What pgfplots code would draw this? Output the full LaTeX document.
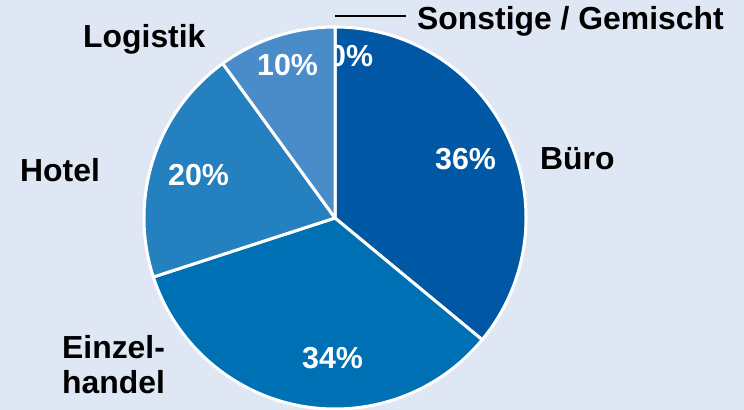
\documentclass[border=0pt]{standalone}
\usepackage{pgfplots}
\usepackage{pgfplotstable}
\pgfplotsset{compat=1.18}
\usepackage{fontspec}
\setmainfont{Liberation Sans}
\definecolor{bg}{RGB}{223,231,245}
\definecolor{cBuero}{RGB}{0,87,163}
\definecolor{cHandel}{RGB}{0,112,180}
\definecolor{cHotel}{RGB}{36,128,191}
\definecolor{cLog}{RGB}{74,139,202}
\pgfplotstableread{
label value
Buero 36
Einzelhandel 34
Hotel 20
Logistik 10
Sonstige 0
}\piedata
\pgfplotstablegetelem{0}{value}\of\piedata \let\vA\pgfplotsretval
\pgfplotstablegetelem{1}{value}\of\piedata \let\vB\pgfplotsretval
\pgfplotstablegetelem{2}{value}\of\piedata \let\vC\pgfplotsretval
\pgfplotstablegetelem{3}{value}\of\piedata \let\vD\pgfplotsretval
\pgfmathsetmacro\aA{90}
\pgfmathsetmacro\aB{\aA-3.6*\vA}
\pgfmathsetmacro\aC{\aB-3.6*\vB}
\pgfmathsetmacro\aD{\aC-3.6*\vC}
\pgfmathsetmacro\aE{\aD-3.6*\vD}
\newcommand\lbl{\fontsize{32}{35}\selectfont\bfseries}
\newcommand\pct{\fontsize{30.5}{33}\selectfont\bfseries}
\begin{document}
\begin{tikzpicture}
\begin{axis}[width=744bp,height=410bp,scale only axis,
  xmin=0,xmax=744,ymin=0,ymax=410,hide axis,clip=false]
\fill[bg] (axis cs:0,0) rectangle (axis cs:744,410);
% slices
\fill[cBuero,draw=white,line width=3bp,line join=round] (axis cs:335,192) -- ++(\aA:191bp) arc[start angle=\aA,end angle=\aB,radius=191bp] -- cycle;
\node[anchor=base west,inner sep=0,text=white,font=\pct] at (axis cs:329,344) {0\%};
\fill[cHandel,draw=white,line width=3bp,line join=round] (axis cs:335,192) -- ++(\aB:191bp) arc[start angle=\aB,end angle=\aC,radius=191bp] -- cycle;
\fill[cHotel,draw=white,line width=3bp,line join=round] (axis cs:335,192) -- ++(\aC:191bp) arc[start angle=\aC,end angle=\aD,radius=191bp] -- cycle;
\fill[cLog,draw=white,line width=3bp,line join=round] (axis cs:335,192) -- ++(\aD:191bp) arc[start angle=\aD,end angle=\aE,radius=191bp] -- cycle;
% percentages
\node[anchor=base west,inner sep=0,text=white,font=\pct] at (axis cs:435,241) {36\%};
\node[anchor=base west,inner sep=0,text=white,font=\pct] at (axis cs:302,42) {34\%};
\node[anchor=base west,inner sep=0,text=white,font=\pct] at (axis cs:168,225) {20\%};
\node[anchor=base west,inner sep=0,text=white,font=\pct] at (axis cs:257,335) {10\%};
% category labels
\node[anchor=base west,inner sep=0,font=\lbl] at (axis cs:540,241) {Büro};
\node[anchor=base west,inner sep=0,font=\lbl] at (axis cs:62,52) {Einzel-};
\node[anchor=base west,inner sep=0,font=\lbl] at (axis cs:62,17) {handel};
\node[anchor=base west,inner sep=0,font=\lbl] at (axis cs:20,229) {Hotel};
\node[anchor=base west,inner sep=0,font=\lbl] at (axis cs:83,363) {Logistik};
\node[anchor=base west,inner sep=0,font=\lbl] at (axis cs:417,381) {Sonstige / Gemischt};
\draw[black,line width=1.5bp] (axis cs:335,394) -- (axis cs:406,394);
\end{axis}
\pgfresetboundingbox
\path (current axis.south west) rectangle (current axis.north east);
\end{tikzpicture}
\end{document}
